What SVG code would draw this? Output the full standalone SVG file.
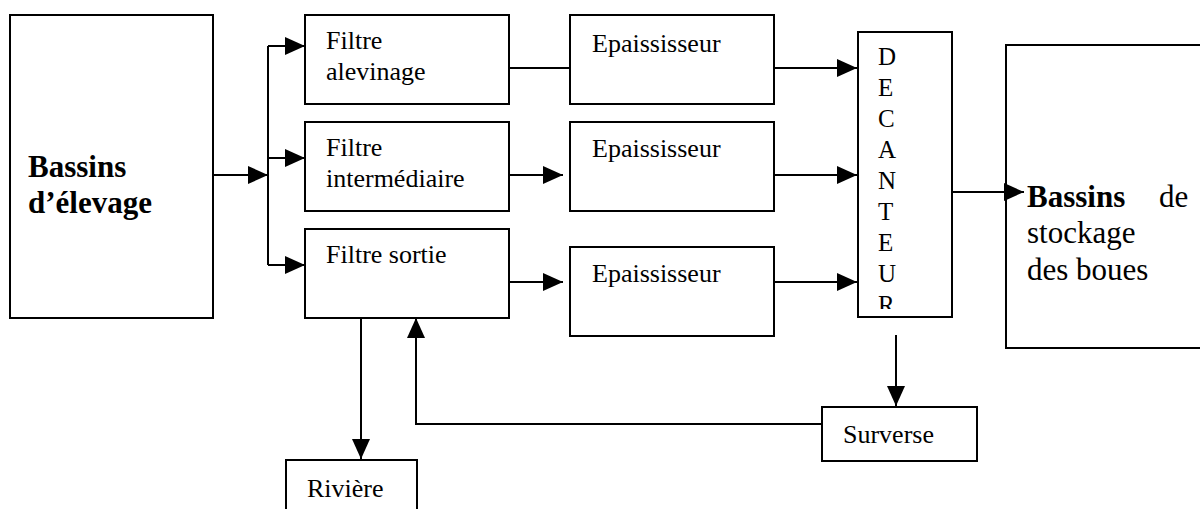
<svg xmlns="http://www.w3.org/2000/svg" width="1200" height="509" viewBox="0 0 1200 509">
  <style>
    .box { fill: #fff; stroke: #000; stroke-width: 2; }
    .t { font-family: "Liberation Serif", "Times New Roman", serif; font-size: 26px; fill: #000; }
    .b { font-family: "Liberation Serif", "Times New Roman", serif; font-size: 31px; font-weight: bold; fill: #000; }
    .n { font-family: "Liberation Serif", "Times New Roman", serif; font-size: 31px; fill: #000; }
    .v { font-family: "Liberation Serif", "Times New Roman", serif; font-size: 25px; fill: #000; }
    .c { fill: none; stroke: #000; stroke-width: 2; }
    .a { marker-end: url(#arr); }
  </style>
  <defs>
    <marker id="arr" markerUnits="userSpaceOnUse" markerWidth="20" markerHeight="18" refX="20" refY="9" orient="auto" overflow="visible">
      <path d="M0,0 L20,9 L0,18 Z" fill="#000"/>
    </marker>
    <clipPath id="decClip">
      <rect x="858" y="32" width="94" height="277"/>
    </clipPath>
  </defs>

  <g id="bassins-elevage">
    <rect class="box" x="10" y="15" width="203" height="303"/>
    <text class="b" x="28" y="177">Bassins</text>
    <text class="b" x="28" y="213">d’élevage</text>
  </g>

  <g id="filtre-alevinage">
    <rect class="box" x="305" y="15" width="204" height="89"/>
    <text class="t" x="326" y="49">Filtre</text>
    <text class="t" x="326" y="80">alevinage</text>
  </g>
  <g id="filtre-intermediaire">
    <rect class="box" x="305" y="122" width="204" height="89"/>
    <text class="t" x="326" y="156">Filtre</text>
    <text class="t" x="326" y="187">intermédiaire</text>
  </g>
  <g id="filtre-sortie">
    <rect class="box" x="305" y="229" width="204" height="89"/>
    <text class="t" x="326" y="263">Filtre sortie</text>
  </g>

  <g id="epaississeur-1">
    <rect class="box" x="570" y="15" width="204" height="89"/>
    <text class="t" x="592" y="52">Epaississeur</text>
  </g>
  <g id="epaississeur-2">
    <rect class="box" x="570" y="122" width="204" height="89"/>
    <text class="t" x="592" y="157">Epaississeur</text>
  </g>
  <g id="epaississeur-3">
    <rect class="box" x="570" y="247" width="204" height="89"/>
    <text class="t" x="592" y="282">Epaississeur</text>
  </g>

  <g id="decanteur">
    <rect class="box" x="858" y="32" width="94" height="285"/>
    <g clip-path="url(#decClip)">
      <text class="v" x="878" y="65">D</text>
      <text class="v" x="878" y="96">E</text>
      <text class="v" x="878" y="127">C</text>
      <text class="v" x="878" y="158">A</text>
      <text class="v" x="878" y="189">N</text>
      <text class="v" x="878" y="220">T</text>
      <text class="v" x="878" y="251">E</text>
      <text class="v" x="878" y="282">U</text>
      <text class="v" x="878" y="313">R</text>
    </g>
  </g>

  <g id="bassins-stockage">
    <rect class="box" x="1006" y="45" width="205" height="303"/>
    <text class="b" x="1027" y="207">Bassins</text>
    <text class="n" x="1159" y="207">de</text>
    <text class="n" x="1027" y="243">stockage</text>
    <text class="n" x="1027" y="280">des boues</text>
  </g>

  <g id="surverse">
    <rect class="box" x="822" y="407" width="155" height="54"/>
    <text class="t" x="843" y="443">Surverse</text>
  </g>

  <g id="riviere">
    <rect class="box" x="286" y="460" width="131" height="60"/>
    <text class="t" x="307" y="497">Rivière</text>
  </g>

  <g id="connectors">
    <line class="c a" x1="213" y1="175" x2="268" y2="175"/>
    <line class="c" x1="268" y1="46" x2="268" y2="265"/>
    <line class="c a" x1="268" y1="46" x2="305" y2="46"/>
    <line class="c a" x1="268" y1="158" x2="305" y2="158"/>
    <line class="c a" x1="268" y1="265" x2="305" y2="265"/>
    <line class="c" x1="509" y1="68" x2="570" y2="68"/>
    <line class="c a" x1="509" y1="175" x2="563" y2="175"/>
    <line class="c a" x1="509" y1="282" x2="563" y2="282"/>
    <line class="c a" x1="774" y1="68" x2="857" y2="68"/>
    <line class="c a" x1="774" y1="175" x2="857" y2="175"/>
    <line class="c a" x1="774" y1="282" x2="857" y2="282"/>
    <line class="c a" x1="952" y1="192" x2="1024" y2="192"/>
    <line class="c a" x1="896" y1="335" x2="896" y2="406"/>
    <polyline class="c a" points="822,424 416,424 416,318"/>
    <line class="c a" x1="361" y1="318" x2="361" y2="459"/>
  </g>
</svg>
